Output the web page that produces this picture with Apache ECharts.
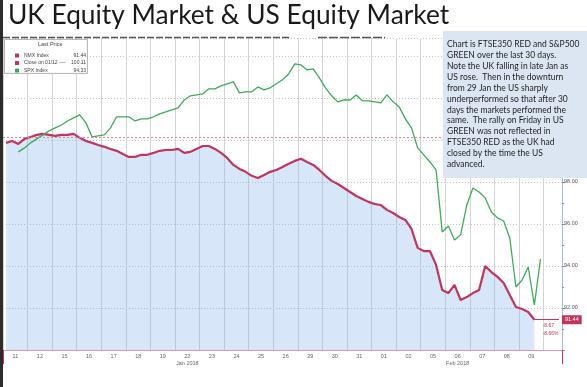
<!DOCTYPE html>
<html>
<head>
<meta charset="utf-8">
<script src="https://cdn.jsdelivr.net/npm/echarts@6/dist/echarts.min.js"></script>
<style>html,body{margin:0;padding:0;background:#fff;}#c{width:587px;height:387px;}</style>
</head>
<body>
<div id="c"></div>
<script>
// ---- data ----
const titleText = 'UK Equity Market & US Equity Market';
const days = ['11','12','15','16','17','18','19','22','23','24','25','26','29','30','31','01','02','05','06','07','08','09'];
const monthLabels = { 7: 'Jan 2018', 18: 'Feb 2018' };
const samplesPerDay = 4;
const padSamples = 3;
const seriesNames = ['NMX Index', 'Close on 01/12', 'SPX Index'];
const lastPrices = ['91.44', '100.11', '94.33'];
const closeRef = 100.11;
const changeAbs = '-8.67';
const changePct = '-8.66%';
const nmx = [99.86, 99.95, 99.81, 100.05, 100.14, 100.24, 100.29, 100.24, 100.19, 100.24, 100.24, 100.29,
  100.10, 99.95, 99.86, 99.76, 99.67, 99.57, 99.48, 99.33, 99.19, 99.19, 99.29, 99.29,
  99.38, 99.48, 99.52, 99.52, 99.57, 99.38, 99.43, 99.57, 99.71, 99.71, 99.57, 99.38,
  99.14, 98.81, 98.62, 98.48, 98.29, 98.19, 98.33, 98.48, 98.57, 98.71, 98.86, 99.00,
  99.10, 98.95, 98.81, 98.57, 98.29, 98.05, 97.90, 97.71, 97.52, 97.33, 97.19, 97.05,
  96.95, 96.90, 96.67, 96.52, 96.33, 96.19, 95.76, 94.86, 94.71, 94.71, 94.05, 92.86,
  92.71, 93.10, 92.38, 92.52, 92.71, 92.86, 94.00, 93.71, 93.48, 93.19, 92.62, 92.05,
  91.95, 91.81, 91.44];
const spx = [null, null, 99.43, 99.62, 99.86, 100.05, 100.24, 100.43, 100.57, 100.71, 100.90, 101.05,
  101.19, 100.81, 100.14, 100.19, 100.24, 100.57, 101.10, 101.10, 101.10, 100.90, 101.00, 101.00,
  101.10, 101.24, 101.33, 101.43, 101.52, 101.90, 102.10, 102.14, 102.19, 102.43, 102.43, 102.57,
  102.67, 102.76, 102.24, 102.29, 102.29, 102.52, 102.38, 102.48, 102.67, 102.86, 103.14, 103.62,
  103.57, 103.33, 103.38, 102.95, 102.48, 102.10, 101.81, 101.90, 101.90, 102.14, 101.86, 101.86,
  101.81, 101.76, 102.14, 101.81, 101.57, 101.00, 100.57, 99.62, 99.29, 98.95, 98.57, 95.62,
  95.90, 95.24, 95.48, 96.90, 97.71, 97.52, 97.24, 96.57, 96.29, 96.14, 95.33, 93.00,
  93.33, 93.95, 92.14, 94.33];
const noteLines = [
  'Chart is FTSE350 RED and S&P500',
  'GREEN over the last 30 days.',
  'Note the UK falling in late Jan as',
  'US rose.  Then in the downturn',
  'from 29 Jan the US sharply',
  'underperformed so that after 30',
  'days the markets performed the',
  'same.  The rally on Friday in US',
  'GREEN was not reflected in',
  'FTSE350 RED as the UK had',
  'closed by the time the US',
  'advanced.'
];

// ---- build ----
const RED = '#c3345a', GREEN = '#3dab5a';
const cats = [];
days.forEach((d, i) => { for (let k = 0; k < samplesPerDay; k++) cats.push(d + '-' + k); });
for (let k = 0; k < padSamples; k++) cats.push('pad' + k);
const nDay = days.length * samplesPerDay;
const febIdx = days.indexOf('01') * samplesPerDay;
const lastNmx = nmx.length - 1, lastSpx = spx.length - 1, lastCat = cats.length - 1;

const chart = echarts.init(document.getElementById('c'), null, { renderer: 'canvas' });
const option = {
  animation: false,
  backgroundColor: '#fff',
  title: {
    text: titleText, left: 8, top: 3, padding: 0,
    textStyle: { fontFamily: 'Lato', fontSize: 26.3, fontWeight: 'normal', color: '#1a1a1a' }
  },
  legend: {
    orient: 'vertical', left: 10, top: 48, itemWidth: 4, itemHeight: 4, itemGap: 2.5, z: 20,
    data: seriesNames.map(n => ({ name: n, icon: 'rect' })),
    selectedMode: false,
    formatter: n => {
      const i = seriesNames.indexOf(n);
      const label = i === 1 ? n + ' ----' : n;
      return '{n|' + label + '}{v|' + lastPrices[i] + '}';
    },
    textStyle: {
      fontFamily: 'Liberation Sans', fontSize: 5, color: '#444', padding: [0, 0, 0, 0],
      rich: { n: { width: 45, fontSize: 5, color: '#444' }, v: { width: 17, align: 'right', fontSize: 5, color: '#444' } }
    }
  },
  grid: { left: 3, right: 25, top: 38, bottom: 37 },
  xAxis: {
    type: 'category', data: cats, boundaryGap: true,
    axisLine: { lineStyle: { color: '#d49aa8', width: 1 } },
    axisTick: { show: true, interval: (idx) => idx === febIdx, length: 14, lineStyle: { color: RED, width: 1 } },
    axisLabel: {
      interval: (idx) => idx % samplesPerDay === 2 && idx < nDay,
      formatter: (v, idx) => {
        const d = Math.floor(idx / samplesPerDay);
        return monthLabels[d] ? days[d] + '\n' + monthLabels[d] : days[d];
      },
      fontFamily: 'Liberation Sans', fontSize: 5.5, color: '#666', margin: 3, lineHeight: 7,
      padding: [0, 6, 0, 0]
    },
    splitLine: { show: true, interval: (idx) => idx % samplesPerDay === 0, lineStyle: { color: '#d4d4d4', width: 1 } }
  },
  yAxis: {
    type: 'value', position: 'right', min: 90, max: 104.85, interval: 2,
    axisLine: { show: true, lineStyle: { color: '#a9bccf' } },
    axisTick: { show: true, length: 3, lineStyle: { color: '#8093a8' } },
    minorTick: { show: true, splitNumber: 2, length: 2, lineStyle: { color: '#8093a8' } },
    axisLabel: { formatter: v => (v === 90 ? '' : v.toFixed(2)), fontFamily: 'Liberation Sans', fontSize: 5.5, color: '#555', margin: 2 },
    splitLine: { show: true, lineStyle: { color: '#c4c4c4', type: [1, 2], width: 1 } }
  },
  series: [{
    name: seriesNames[0], type: 'line', data: nmx, showSymbol: false, symbol: 'none',
    color: RED, itemStyle: { color: RED },
    lineStyle: { color: RED, width: 2.2 },
    areaStyle: { color: 'rgba(135,180,238,0.47)', origin: 'start' },
    z: 3,
    markLine: {
      silent: true, symbol: 'none', animation: false,
      data: [
        { yAxis: closeRef, lineStyle: { color: '#d98897', type: [2, 2], width: 1 }, label: { show: false } },
        [{ coord: [lastNmx, nmx[lastNmx]] }, { coord: [lastCat, nmx[lastNmx]],
          label: { show: true, position: 'end', formatter: lastPrices[0], backgroundColor: RED, color: '#fff',
            fontSize: 5.5, fontFamily: 'Liberation Sans', padding: [2, 3, 1, 3], distance: 3 } }]
      ],
      lineStyle: { color: RED, type: 'solid', width: 1 }
    },
    markPoint: {
      symbol: 'circle', symbolSize: 0, silent: true,
      data: [{ coord: [lastNmx + 2, nmx[lastNmx]],
        label: { show: true, position: 'bottom', distance: 2, formatter: changeAbs + '\n' + changePct, color: RED,
          fontSize: 5, lineHeight: 8, fontFamily: 'Liberation Sans', align: 'left', offset: [-4, 0] } }]
    }
  }, {
    name: seriesNames[1], type: 'line', data: [], color: RED, itemStyle: { color: RED }, lineStyle: { color: RED }
  }, {
    name: seriesNames[2], type: 'line', data: spx, showSymbol: false, symbol: 'none', connectNulls: false,
    color: GREEN, itemStyle: { color: GREEN },
    lineStyle: { color: GREEN, width: 1.3 }, z: 4,
    markLine: {
      silent: true, symbol: 'none',
      data: [[{ coord: [lastSpx, spx[lastSpx]] }, { coord: [lastCat, spx[lastSpx]],
        label: { show: true, position: 'end', formatter: lastPrices[2], backgroundColor: GREEN, color: '#fff',
          fontSize: 5.5, fontFamily: 'Liberation Sans', padding: [2, 3, 1, 3], distance: 3 } }]],
      lineStyle: { opacity: 0 }
    }
  }],
  graphic: [
    { type: 'rect', left: 0, top: 0, shape: { width: 3, height: 387 }, style: { fill: '#2b2b2b' }, z: 100 },
    { type: 'line', shape: { x1: 3, y1: 37.5, x2: 290, y2: 37.5 }, style: { stroke: '#555', lineWidth: 1.5, lineDash: [7, 2] }, z: 9 },
    { type: 'line', shape: { x1: 318, y1: 37.5, x2: 385, y2: 37.5 }, style: { stroke: '#555', lineWidth: 1.5, lineDash: [9, 2] }, z: 9 },
    { type: 'rect', left: 4, top: 39, shape: { width: 83, height: 34 }, style: { fill: '#fff', stroke: '#9a9a9a', lineWidth: 0.8 }, z: 10 },
    { type: 'text', left: 38, top: 41, style: { text: 'Last Price', fontSize: 5.5, fontFamily: 'Liberation Sans', fill: '#444' }, z: 11 },
    { type: 'rect', left: 443, top: 31, shape: { width: 144, height: 147 }, style: { fill: '#dce6f2' }, z: 60 },
    { type: 'text', left: 447, top: 39, style: { text: noteLines.join('\n'), fontSize: 8.5, lineHeight: 10.9, fontFamily: 'Lato', fill: '#1e1e1e' }, z: 61 }
  ]
};
chart.setOption(option);
</script>
</body>
</html>
